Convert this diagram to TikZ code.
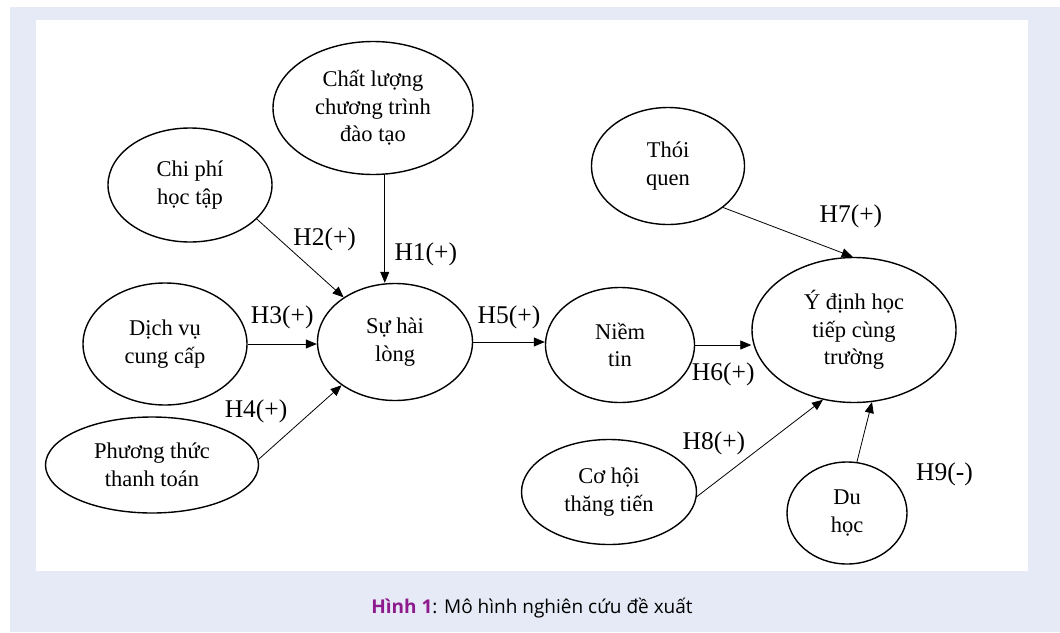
\documentclass[tikz,border=0pt]{standalone}
\usepackage{fontspec}
\setmainfont{Liberation Serif}
\newfontfamily\captionfont{Open Sans}
\usetikzlibrary{arrows.meta, shapes.geometric}
\definecolor{pagebg}{RGB}{230,234,246}
\definecolor{figpurple}{RGB}{142,27,142}

\begin{document}
\begin{tikzpicture}[
        x=1pt, y=-1pt,
        construct/.style={draw, ellipse, align=center, line width=1.4pt, inner sep=0pt, font=\fontsize{22.5}{27.5}\selectfont},
        hyp/.style={font=\fontsize{25.5}{28}\selectfont, inner sep=0pt},
        arrow/.style={-{Triangle[length=11pt, width=9pt]}, line width=0.8pt}
    ]

    % Background
    \fill[white] (0,0) rectangle (1060,632);
    \fill[pagebg] (10,7) rectangle (1060,632);
    \fill[white] (36,20) rectangle (1028,571);
    \useasboundingbox (0,0) rectangle (1060,632);

    % Nodes
    \node (chatluong) [construct, minimum width=200pt, minimum height=133pt] at (373,108) {Chất lượng\\chương trình\\đào tạo};
    \node (chiphi) [construct, minimum width=164pt, minimum height=114pt] at (190,185) {Chi phí\\học tập};
    \node (dichvu) [construct, minimum width=164pt, minimum height=122pt] at (165,344) {Dịch vụ\\cung cấp};
    \node (phuongthuc) [construct, minimum width=213pt, minimum height=96pt] at (152,465) {Phương thức\\thanh toán};
    \node (suhailong) [construct, minimum width=155pt, minimum height=117pt] at (395,342) {Sự hài\\lòng};
    \node (niemtin) [construct, minimum width=149pt, minimum height=115pt] at (620,345) {Niềm\\tin};
    \node (thoiquen) [construct, minimum width=153pt, minimum height=117pt] at (668,166) {Thói\\quen};
    \node (ydinh) [construct, minimum width=204pt, minimum height=145pt] at (854,330) {Ý định học\\tiếp cùng\\trường};
    \node (cohoi) [construct, minimum width=175pt, minimum height=105pt] at (609,492) {Cơ hội\\thăng tiến};
    \node (duhoc) [construct, minimum width=120pt, minimum height=102pt] at (847,513) {Du\\học};
    \node (caption) at (532,608) {\captionfont\fontsize{19}{22}\selectfont\textcolor{figpurple}{\bfseries Hình 1}: Mô hình nghiên cứu đề xuất};

    % Connections
    \draw[arrow] (chatluong.-80.5) -- (chatluong.-80.5 |- suhailong.north) node[hyp, midway, xshift=41pt, yshift=-26pt] {H1(+)};
    \draw[arrow] (chiphi.-27.6) -- (suhailong.139.7) node[hyp, midway, xshift=24.5pt, yshift=18.5pt] {H2(+)};
    \draw[arrow] (dichvu.east) -- (dichvu.east -| suhailong.west) node[hyp, midway, yshift=27pt] {H3(+)};
    \draw[arrow] (phuongthuc.3.8) -- (suhailong.219) node[hyp, midway, xshift=-44pt, yshift=10.5pt] {H4(+)};
    \draw[arrow] (suhailong.east) -- (suhailong.east -| niemtin.west) node[hyp, midway, yshift=25pt] {H5(+)};
    \draw[arrow] (niemtin.east) -- (niemtin.east -| ydinh.west) node[hyp, midway, yshift=-29pt] {H6(+)};
    \draw[arrow] (thoiquen.-37) -- (ydinh.91.6) node[hyp, midway, xshift=63pt, yshift=15.5pt] {H7(+)};
    \draw[arrow] (cohoi.-3.3) -- (ydinh.246.7) node[hyp, midway, xshift=-46pt, yshift=4.5pt] {H8(+)};
    \draw[arrow] (duhoc.79) -- (ydinh.-76.9) node[hyp, midway, xshift=80pt, yshift=-42.5pt] {H9(-)};

\end{tikzpicture}
\end{document}
